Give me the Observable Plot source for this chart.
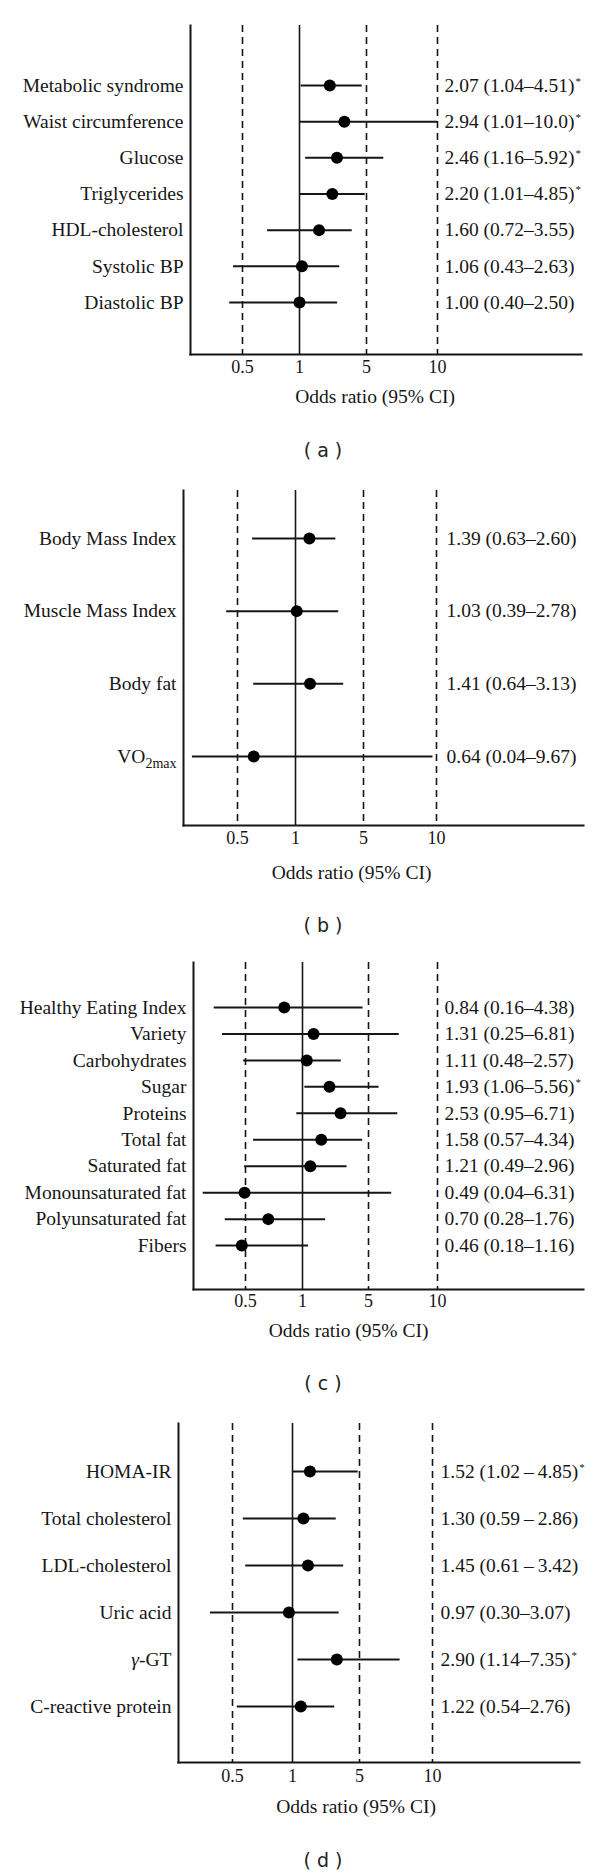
<!DOCTYPE html>
<html><head><meta charset="utf-8">
<script src="https://cdn.jsdelivr.net/npm/d3@7"></script>
<script src="https://cdn.jsdelivr.net/npm/@observablehq/plot@0.6"></script>
<style>
body{margin:0;background:#fff;}
#root{position:relative;width:600px;height:1875px;background:#fff;overflow:hidden;}
.panel{position:absolute;left:0;}
.cap{position:absolute;font-family:"DejaVu Sans";font-size:19px;color:#222;transform:translate(-50%,-50%);line-height:1;white-space:pre;}
</style></head><body><div id="root"></div>
<script>
// ---- shared axis content ----
const ticks = [0.5, 1, 5, 10];
const axisTitle = "Odds ratio (95% CI)";

// ---- panel (a) ----
const catsA = ["Metabolic syndrome", "Waist circumference", "Glucose", "Triglycerides", "HDL-cholesterol", "Systolic BP", "Diastolic BP"];
const orA = [2.07, 2.94, 2.46, 2.20, 1.60, 1.06, 1.00];
const loA = [1.04, 1.01, 1.16, 1.01, 0.72, 0.43, 0.40];
const hiA = [4.51, 10.0, 5.92, 4.85, 3.55, 2.63, 2.50];
const annA = ["2.07 (1.04–4.51)", "2.94 (1.01–10.0)", "2.46 (1.16–5.92)", "2.20 (1.01–4.85)", "1.60 (0.72–3.55)", "1.06 (0.43–2.63)", "1.00 (0.40–2.50)"];
const sigA = [true, true, true, true, false, false, false];

// ---- panel (b) ----
const catsB = ["Body Mass Index", "Muscle Mass Index", "Body fat", "VO2max"];
const orB = [1.39, 1.03, 1.41, 0.64];
const loB = [0.63, 0.39, 0.64, 0.04];
const hiB = [2.60, 2.78, 3.13, 9.67];
const annB = ["1.39 (0.63–2.60)", "1.03 (0.39–2.78)", "1.41 (0.64–3.13)", "0.64 (0.04–9.67)"];
const sigB = [false, false, false, false];

// ---- panel (c) ----
const catsC = ["Healthy Eating Index", "Variety", "Carbohydrates", "Sugar", "Proteins", "Total fat", "Saturated fat", "Monounsaturated fat", "Polyunsaturated fat", "Fibers"];
const orC = [0.84, 1.31, 1.11, 1.93, 2.53, 1.58, 1.21, 0.49, 0.70, 0.46];
const loC = [0.16, 0.25, 0.48, 1.06, 0.95, 0.57, 0.49, 0.04, 0.28, 0.18];
const hiC = [4.38, 6.81, 2.57, 5.56, 6.71, 4.34, 2.96, 6.31, 1.76, 1.16];
const annC = ["0.84 (0.16–4.38)", "1.31 (0.25–6.81)", "1.11 (0.48–2.57)", "1.93 (1.06–5.56)", "2.53 (0.95–6.71)", "1.58 (0.57–4.34)", "1.21 (0.49–2.96)", "0.49 (0.04–6.31)", "0.70 (0.28–1.76)", "0.46 (0.18–1.16)"];
const sigC = [false, false, false, true, false, false, false, false, false, false];

// ---- panel (d) ----
const catsD = ["HOMA-IR", "Total cholesterol", "LDL-cholesterol", "Uric acid", "γ-GT", "C-reactive protein"];
const orD = [1.52, 1.30, 1.45, 0.97, 2.90, 1.22];
const loD = [1.02, 0.59, 0.61, 0.30, 1.14, 0.54];
const hiD = [4.85, 2.86, 3.42, 3.07, 7.35, 2.76];
const annD = ["1.52 (1.02\u2009–\u20094.85)", "1.30 (0.59\u2009–\u20092.86)", "1.45 (0.61\u2009–\u20093.42)", "0.97 (0.30–3.07)", "2.90 (1.14–7.35)", "1.22 (0.54–2.76)"];
const sigD = [true, false, false, false, true, false];

// odds-ratio axis: linear below 1, logarithmic above 1 (as drawn in the figure)
const g = v => (v <= 1 ? v : 1 + Math.log(v));

const panels = [
  {cap: "( a )", cats: catsA, or: orA, lo: loA, hi: hiA, ann: annA, sig: sigA,
   top: 0, mt: 25, fb: 354, left: 190, right: 581,
   xd: [0, 0.5, 1, 5, 10, 40], xr: [178, 242, 299, 366, 437, 581],
   pad: [1.66, 1.44], tickDy: 18, titleDy: 48, titleDx: -11, annDx: 7, capXY: [323, 450]},
  {cap: "( b )", cats: catsB, or: orB, lo: loB, hi: hiB, ann: annB, sig: sigB,
   top: 470, mt: 20, fb: 355, left: 183, right: 583,
   xd: [0, 0.5, 1, 5, 10, 40], xr: [188, 237, 295, 363, 436, 583],
   pad: [0.66, 0.95], tickDy: 18, titleDy: 53, titleDx: -32, annDx: 10, capXY: [323, 925]},
  {cap: "( c )", cats: catsC, or: orC, lo: loC, hi: hiC, ann: annC, sig: sigC,
   top: 940, mt: 22, fb: 349, left: 193, right: 583,
   xd: [0, 0.5, 1, 5, 10, 40], xr: [199, 245, 302, 368, 437, 583],
   pad: [1.70, 1.66], tickDy: 17, titleDy: 47, titleDx: -40, annDx: 7, capXY: [323, 1383]},
  {cap: "( d )", cats: catsD, or: orD, lo: loD, hi: hiD, ann: annD, sig: sigD,
   top: 1405, mt: 18, fb: 357, left: 178, right: 579,
   xd: [0, 0.5, 1, 5, 10, 40], xr: [177, 232, 292, 359, 432, 579],
   pad: [1.02, 1.19], tickDy: 19, titleDy: 50, titleDx: -23, annDx: 8, capXY: [323, 1860]}
];

const root = document.getElementById("root");
const ink = "#161616";
const H = 420;

for (const p of panels) {
  const n = p.cats.length;
  const rows = p.cats.map((c, i) => ({
    label: c, i, or: p.or[i], lo: p.lo[i], hi: p.hi[i],
    ann: p.ann[i] + (p.sig[i] ? "*" : "")
  }));
  const svg = Plot.plot({
    width: 600, height: H,
    marginTop: p.mt, marginBottom: H - p.fb, marginLeft: p.left, marginRight: 600 - p.right,
    x: {type: "linear", domain: p.xd.map(g), range: p.xr, axis: null},
    y: {type: "linear", domain: [-p.pad[0], n - 1 + p.pad[1]], reverse: true, axis: null},
    style: {fontFamily: "'Liberation Serif', 'DejaVu Serif', serif", fontSize: "19.5px", color: ink, background: "white", overflow: "visible"},
    marks: [
      Plot.ruleX(ticks.filter(t => t !== 1), {x: d => g(d), stroke: ink, strokeWidth: 1.6, strokeDasharray: "7,5"}),
      Plot.ruleX([1], {x: d => g(d), stroke: ink, strokeWidth: 1.6}),
      Plot.frame({anchor: "left", stroke: ink, strokeWidth: 2}),
      Plot.frame({anchor: "bottom", stroke: ink, strokeWidth: 2}),
      Plot.ruleY(rows, {x1: d => g(d.lo), x2: d => g(d.hi), y: "i", stroke: ink, strokeWidth: 2}),
      Plot.dot(rows, {x: d => g(d.or), y: "i", r: 6, fill: "#000", stroke: "none"}),
      Plot.text(rows, {y: "i", text: "label", frameAnchor: "left", textAnchor: "end", dx: -7, fontSize: 19.5, fill: ink}),
      Plot.text(rows, {x: () => g(10), y: "i", text: "ann", textAnchor: "start", dx: p.annDx, fontSize: 19.5, fill: ink}),
      Plot.text(ticks, {x: d => g(d), text: d => String(d), frameAnchor: "bottom", dy: p.tickDy, fontSize: 18, fill: ink}),
      Plot.text([axisTitle], {frameAnchor: "bottom", dy: p.titleDy, dx: p.titleDx, fontSize: 19.5, fill: ink})
    ]
  });
  // typographic details: superscript asterisks, subscript, italic gamma
  d3.select(svg).selectAll("text").each(function () {
    const t = this.textContent;
    const s = d3.select(this);
    if (t.length > 1 && t.endsWith("*")) {
      s.text(t.slice(0, -1));
      s.append("tspan").attr("font-size", 11).attr("dx", 1).attr("dy", "-0.65em").text("*");
    } else if (t === "VO2max") {
      s.text("VO");
      s.append("tspan").attr("font-size", 14).attr("dy", "0.4em").text("2max");
    } else if (t === "γ-GT") {
      s.text("");
      s.append("tspan").attr("font-style", "italic").text("γ");
      s.append("tspan").text("-GT");
    }
  });
  const wrap = document.createElement("div");
  wrap.className = "panel";
  wrap.style.top = p.top + "px";
  wrap.appendChild(svg);
  root.appendChild(wrap);
  const cap = document.createElement("span");
  cap.className = "cap";
  cap.textContent = p.cap;
  cap.style.left = p.capXY[0] + "px";
  cap.style.top = p.capXY[1] + "px";
  root.appendChild(cap);
}
</script>
</body></html>
